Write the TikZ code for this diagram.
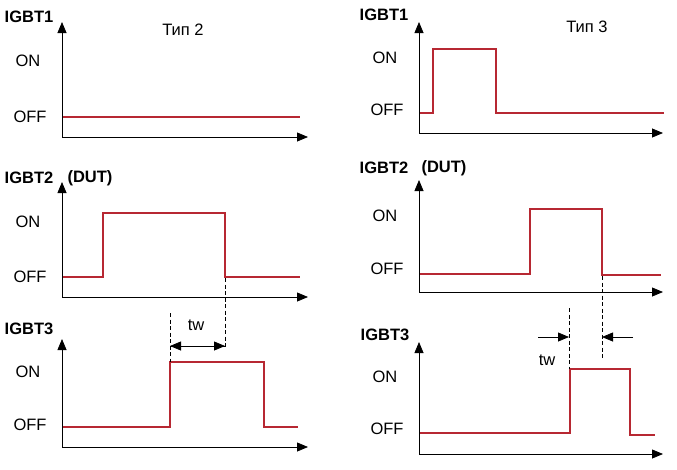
\documentclass[tikz,border=0pt]{standalone}
\usepackage{fontspec}
\setmainfont{Liberation Sans}
\usepackage{xcolor}
\usepackage{tikz}
\usetikzlibrary{arrows.meta}
\usetikzlibrary{positioning}
\definecolor{wavered}{RGB}{183,40,50}
\tikzstyle{none}=[inner sep=0mm]
\tikzstyle{axis}=[line width=0.8pt,{Triangle[length=11pt,width=9pt]}-{Triangle[length=11pt,width=9pt]}]
\tikzstyle{wave}=[line width=2pt,draw=wavered,line join=miter]
\tikzstyle{guide}=[line width=0.8pt,dash pattern=on 4pt off 2.5pt]
\tikzstyle{dim}=[line width=0.8pt,-{Triangle[length=11pt,width=9pt]}]
\tikzstyle{lvl}=[none,font=\fontsize{16.5}{19}\selectfont]
\tikzstyle{chan}=[none,font=\fontsize{16.5}{19}\selectfont\bfseries]

\begin{document}
\begin{tikzpicture}[x=1pt,y=-1pt]
	\useasboundingbox (0,0) rectangle (677,469);
	% labels
	\node [style=chan] (igbt1a) at (29,17) {IGBT1};
	\node [style=lvl] (type2) at (183,30) {Тип 2};
	\node [style=lvl] (on1a) at (28,61) {ON};
	\node [style=lvl] (off1a) at (30,117) {OFF};
	\node [style=chan] (igbt2a) at (29,178) {IGBT2};
	\node [style=chan] (duta) at (90,178) {(DUT)};
	\node [style=lvl] (on2a) at (28,222) {ON};
	\node [style=lvl] (off2a) at (30,277) {OFF};
	\node [style=chan] (igbt3a) at (29,329) {IGBT3};
	\node [style=lvl] (on3a) at (28,372) {ON};
	\node [style=lvl] (off3a) at (30,425) {OFF};
	\node [style=lvl] (twa) at (196,325) {tw};
	\node [style=chan] (igbt1b) at (384,15) {IGBT1};
	\node [style=lvl] (type3) at (587,27) {Тип 3};
	\node [style=lvl] (on1b) at (385,58) {ON};
	\node [style=lvl] (off1b) at (387,110) {OFF};
	\node [style=chan] (igbt2b) at (384,168) {IGBT2};
	\node [style=chan] (dutb) at (444,168) {(DUT)};
	\node [style=lvl] (on2b) at (385,216) {ON};
	\node [style=lvl] (off2b) at (387,269) {OFF};
	\node [style=chan] (igbt3b) at (385,335) {IGBT3};
	\node [style=lvl] (on3b) at (385,377) {ON};
	\node [style=lvl] (off3b) at (387,429) {OFF};
	\node [style=lvl] (twb) at (547,360) {tw};
	% axes
	\coordinate (ya1) at (62,22);  \coordinate (oa1) at (62,137); \coordinate (xa1) at (308,137);
	\coordinate (ya2) at (62,182); \coordinate (oa2) at (62,297); \coordinate (xa2) at (308,297);
	\coordinate (ya3) at (62,339); \coordinate (oa3) at (62,447); \coordinate (xa3) at (308,447);
	\coordinate (yb1) at (419,22);  \coordinate (ob1) at (419,133); \coordinate (xb1) at (663,133);
	\coordinate (yb2) at (419,180); \coordinate (ob2) at (419,292); \coordinate (xb2) at (663,292);
	\coordinate (yb3) at (419,342); \coordinate (ob3) at (419,454); \coordinate (xb3) at (663,454);
	\draw [style=axis] (ya1) -- (oa1) -- (xa1);
	\draw [style=axis] (ya2) -- (oa2) -- (xa2);
	\draw [style=axis] (ya3) -- (oa3) -- (xa3);
	\draw [style=axis] (yb1) -- (ob1) -- (xb1);
	\draw [style=axis] (yb2) -- (ob2) -- (xb2);
	\draw [style=axis] (yb3) -- (ob3) -- (xb3);
	% waveforms
	\draw [style=wave] (63,117) -- (300,117);
	\draw [style=wave] (63,277) -- (103,277) -- (103,213) -- (225,213) -- (225,277) -- (300,277);
	\draw [style=wave] (63,427) -- (170,427) -- (170,362) -- (264,362) -- (264,427) -- (298,427);
	\draw [style=wave] (420,113) -- (433,113) -- (433,49) -- (496,49) -- (496,113) -- (664,113);
	\draw [style=wave] (420,274) -- (530,274) -- (530,209) -- (602,209) -- (602,275) -- (661,275);
	\draw [style=wave] (420,433) -- (570,433) -- (570,369) -- (630,369) -- (630,435) -- (655,435);
	% dead time tw
	\coordinate (fa) at (225,278); \coordinate (fa2) at (225,347);
	\coordinate (ra) at (170,313); \coordinate (ra2) at (170,362);
	\draw [style=guide] (fa) -- (fa2);
	\draw [style=guide] (ra) -- (ra2);
	\coordinate (twal) at (170,346); \coordinate (twar) at (225,346);
	\draw [style=dim] (twal) -- (twar);
	\draw [style=dim] (twar) -- (twal);
	\coordinate (fb) at (602,276); \coordinate (fb2) at (602,360);
	\coordinate (rb) at (569,308); \coordinate (rb2) at (569,369);
	\draw [style=guide] (fb) -- (fb2);
	\draw [style=guide] (rb) -- (rb2);
	\coordinate (twbl) at (538,337); \coordinate (twbr) at (633,337);
	\draw [style=dim] (twbl) -- (rb |- twbl);
	\draw [style=dim] (twbr) -- (fb |- twbr);
\end{tikzpicture}
\end{document}
